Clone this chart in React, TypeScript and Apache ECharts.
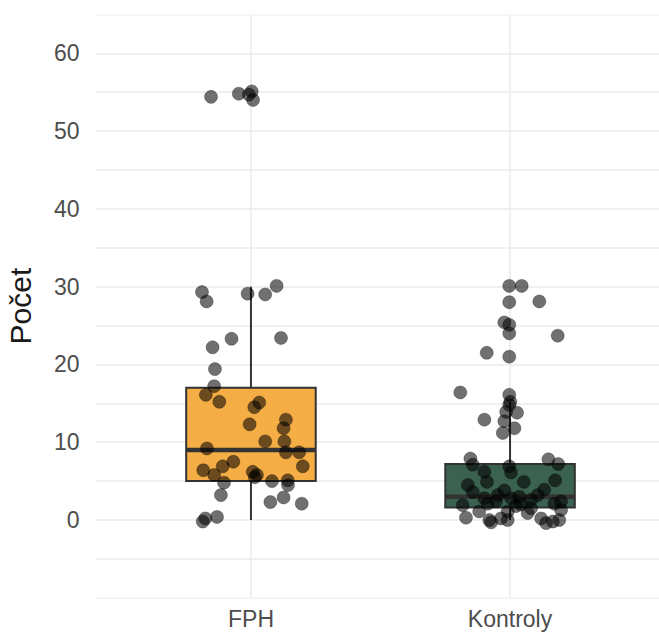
import React, { useEffect, useRef } from "react";
import * as echarts from "echarts";

// ---- data ----
const categories = ["FPH", "Kontroly"];
const yTickLabels = [0, 10, 20, 30, 40, 50, 60];

// box stats: [low, q1, median, q3, high]
const fphBox = [0, 5, 9, 17, 30];
const kontrolyBox = [0, 1.6, 3, 7.2, 15.2];

// jittered points: horizontal jitter (category units) and value
const fphJitter = [
  -0.154, -0.047, 0.003, 0.008, -0.008, -0.189, -0.171, -0.013, 0.055, 0.099,
  -0.075, 0.116, -0.148, -0.139, -0.142, -0.174, -0.122, 0.032, 0.013, -0.005,
  0.135, 0.126, 0.055, 0.129, -0.17, 0.135, 0.186, 0.2, -0.068, -0.109,
  -0.184, -0.142, 0.007, 0.023, 0.081, 0.142, -0.104, -0.116, 0.075, 0.126,
  0.196, -0.186, -0.176, -0.131, 0.143, 0.015,
];
const fphValues = [
  54.4, 54.8, 55.1, 54.0, 54.7, 29.3, 28.1, 29.1, 29.0, 30.1,
  23.3, 23.4, 22.2, 19.4, 17.2, 16.1, 15.2, 15.1, 14.5, 12.3,
  12.9, 11.8, 10.1, 10.1, 9.2, 8.7, 8.7, 6.9, 7.5, 6.9,
  6.4, 5.8, 6.2, 5.8, 5.0, 5.1, 4.8, 3.2, 2.3, 2.9,
  2.1, -0.2, 0.2, 0.4, 4.5, 5.5,
];

const kontrolyJitter = [
  -0.003, 0.045, -0.003, 0.113, -0.022, -0.003, -0.003, 0.184, -0.09, -0.003,
  -0.192, -0.003, 0.001, -0.003, 0.027, -0.015, -0.099, -0.022, 0.017, -0.028,
  -0.153, -0.144, 0.148, 0.186, -0.003, 0.004, -0.099, -0.089, -0.163, -0.144,
  0.053, 0.174, -0.022, 0.132, -0.099, -0.054, 0.004, 0.036, 0.081, 0.107,
  0.171, -0.183, -0.119, -0.009, 0.068, 0.197, -0.17, -0.08, -0.073, -0.009,
  0.12, 0.139, 0.165, 0.19, -0.035, 0.197, -0.047, -0.086, 0.023, 0.042, 0.081,
];
const kontrolyValues = [
  30.1, 30.1, 28.0, 28.1, 25.4, 25.1, 24.0, 23.7, 21.5, 21.0,
  16.4, 16.1, 15.2, 14.8, 13.8, 13.9, 12.9, 12.7, 11.8, 11.2,
  7.9, 7.1, 7.8, 7.2, 6.9, 6.1, 6.2, 4.9, 4.5, 3.6,
  4.9, 5.1, 3.8, 3.9, 2.8, 2.4, 2.8, 3.0, 2.6, 3.2,
  2.1, 1.9, 1.1, 1.1, 0.9, 1.3, 0.3, 0.0, -0.3, 0.0,
  0.2, -0.4, -0.2, 0.0, 0.2, 2.4, 3.2, 2.1, 1.8, 2.0, 1.5,
];

const boxColors = ["#F5AD45", "#3B6150"];

export default function App() {
  const ref = useRef<HTMLDivElement>(null);

  useEffect(() => {
    document.body.style.margin = "0";
    const chart = echarts.init(ref.current!, undefined, { renderer: "svg" });
    const font = "'Liberation Sans', Arial, Helvetica, sans-serif";

    const boxData = [fphBox, kontrolyBox].map((b, i) => [i + 1, ...b]);
    const points = [
      ...fphValues.map((v, i) => [1 + fphJitter[i], v]),
      ...kontrolyValues.map((v, i) => [2 + kontrolyJitter[i], v]),
    ];

    const gridTop = 14.4;
    const gridHeight = 583.4;
    const lineColors = [
      "#f1f1f1", "#ebebeb", "#ebebeb", "#ebebeb", "#ebebeb", "#ebebeb", "#ebebeb", "#ebebeb",
      "#ebebeb", "#ebebeb", "#ebebeb", "#ebebeb", "#ebebeb", "#ebebeb", "#ebebeb", "#f5f5f5",
    ];

    chart.setOption({
      animation: false,
      backgroundColor: "#ffffff",
      grid: [
        { left: 95.5, top: gridTop, width: 570, height: gridHeight, outerBoundsMode: "none", containLabel: false },
        { left: 251, top: gridTop, width: 259, height: gridHeight, outerBoundsMode: "none", containLabel: false },
      ],
      xAxis: [
        { type: "value", gridIndex: 0, min: 0.4, max: 2.6, show: false },
        {
          type: "category",
          gridIndex: 1,
          data: categories,
          boundaryGap: false,
          axisLine: { show: false },
          axisTick: { show: false },
          splitLine: { show: true, lineStyle: { color: "#ebebeb", width: 1.6 } },
          axisLabel: { fontSize: 23, color: "#4d4d4d", fontFamily: font, margin: 10 },
        },
      ],
      yAxis: [
        {
          type: "value",
          gridIndex: 0,
          min: -10,
          max: 65,
          interval: 5,
          axisLine: { show: false },
          axisTick: { show: false },
          splitLine: { show: true, lineStyle: { color: lineColors, width: 1.6 } },
          axisLabel: {
            fontSize: 23,
            color: "#4d4d4d",
            fontFamily: font,
            margin: 16,
            formatter: (v: number) => (yTickLabels.includes(v) ? String(v) : ""),
          },
          name: "Počet",
          nameLocation: "middle",
          nameRotate: 90,
          nameGap: 60,
          nameTextStyle: { fontSize: 30, color: "#1a1a1a", fontFamily: font },
        },
        { type: "value", gridIndex: 1, min: -10, max: 65, show: false },
      ],
      series: [
        {
          type: "custom",
          xAxisIndex: 0,
          yAxisIndex: 0,
          data: boxData,
          z: 2,
          renderItem: (params: any, api: any) => {
            const x = api.value(0);
            const pLow = api.coord([x, api.value(1)]);
            const pQ1 = api.coord([x, api.value(2)]);
            const pMed = api.coord([x, api.value(3)]);
            const pQ3 = api.coord([x, api.value(4)]);
            const pHigh = api.coord([x, api.value(5)]);
            const hw = api.size([0.5, 0])[0] / 2;
            const cx = pMed[0];
            const stroke = "#333333";
            return {
              type: "group",
              children: [
                { type: "line", shape: { x1: cx, y1: pHigh[1], x2: cx, y2: pQ3[1] }, style: { stroke, lineWidth: 2 } },
                { type: "line", shape: { x1: cx, y1: pQ1[1], x2: cx, y2: pLow[1] }, style: { stroke, lineWidth: 2 } },
                {
                  type: "rect",
                  shape: { x: cx - hw, y: pQ3[1], width: hw * 2, height: pQ1[1] - pQ3[1] },
                  style: { fill: boxColors[params.dataIndex], stroke, lineWidth: 2 },
                },
                { type: "line", shape: { x1: cx - hw, y1: pMed[1], x2: cx + hw, y2: pMed[1] }, style: { stroke, lineWidth: 4.5 } },
              ],
            };
          },
        },
        {
          type: "scatter",
          xAxisIndex: 0,
          yAxisIndex: 0,
          data: points,
          symbolSize: 13,
          clip: false,
          z: 3,
          itemStyle: { color: "rgba(0,0,0,0.7)", borderColor: "rgba(0,0,0,0.35)", borderWidth: 1 },
        },
      ],
    });

    return () => chart.dispose();
  }, []);

  return <div ref={ref} style={{ width: 659, height: 634 }} />;
}
